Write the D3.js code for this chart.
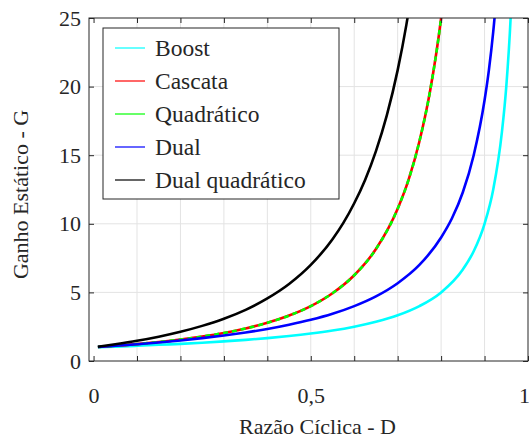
<!DOCTYPE html>
<html>
<head>
<meta charset="utf-8">
<script src="https://cdn.jsdelivr.net/npm/d3@7"></script>
<style>
  body { margin: 0; background: #fff; }
  svg text { font-family: "Liberation Serif", Tinos, "Times New Roman", "Nimbus Roman", "DejaVu Serif", serif; fill: #262626; }
  .grid line { stroke: #e3e3e3; stroke-width: 1; }
  .frame { fill: none; stroke: #262626; stroke-width: 1; }
</style>
</head>
<body>
<svg width="529" height="441"></svg>
<script>
// values (D vs G)
const dBoost = [0.01, 0.05, 0.1, 0.15, 0.2, 0.25, 0.3, 0.35, 0.4, 0.45, 0.5, 0.55, 0.6, 0.65, 0.7, 0.75, 0.8, 0.85, 0.875, 0.9, 0.92, 0.94, 0.95, 0.96, 0.97];
const gBoost = [1.01, 1.05, 1.11, 1.18, 1.25, 1.33, 1.43, 1.54, 1.67, 1.82, 2.0, 2.22, 2.5, 2.86, 3.33, 4.0, 5.0, 6.67, 8.0, 10.0, 12.5, 16.7, 20.0, 25.0, 33.3];

const dCascata = [0.01, 0.05, 0.1, 0.15, 0.2, 0.25, 0.3, 0.35, 0.4, 0.45, 0.5, 0.55, 0.6, 0.65, 0.7, 0.725, 0.75, 0.775, 0.8, 0.82];
const gCascata = [1.02, 1.11, 1.23, 1.38, 1.56, 1.78, 2.04, 2.37, 2.78, 3.31, 4.0, 4.94, 6.25, 8.16, 11.1, 13.2, 16.0, 19.75, 25.0, 30.9];

const dQuad = [0.01, 0.05, 0.1, 0.15, 0.2, 0.25, 0.3, 0.35, 0.4, 0.45, 0.5, 0.55, 0.6, 0.65, 0.7, 0.725, 0.75, 0.775, 0.8, 0.82];
const gQuad = [1.02, 1.11, 1.23, 1.38, 1.56, 1.78, 2.04, 2.37, 2.78, 3.31, 4.0, 4.94, 6.25, 8.16, 11.1, 13.2, 16.0, 19.75, 25.0, 30.9];

const dDual = [0.01, 0.05, 0.1, 0.15, 0.2, 0.25, 0.3, 0.35, 0.4, 0.45, 0.5, 0.55, 0.6, 0.65, 0.7, 0.75, 0.8, 0.825, 0.85, 0.875, 0.9, 0.91, 0.92, 0.93];
const gDual = [1.02, 1.11, 1.22, 1.35, 1.5, 1.67, 1.86, 2.08, 2.33, 2.64, 3.0, 3.44, 4.0, 4.71, 5.67, 7.0, 9.0, 10.4, 12.3, 15.0, 19.0, 21.2, 24.0, 27.6];

const dDualQuad = [0.01, 0.05, 0.1, 0.15, 0.2, 0.25, 0.3, 0.35, 0.4, 0.45, 0.5, 0.55, 0.575, 0.6, 0.625, 0.65, 0.675, 0.7, 0.72, 0.74];
const gDualQuad = [1.04, 1.22, 1.47, 1.77, 2.13, 2.56, 3.08, 3.73, 4.56, 5.61, 7.0, 8.88, 10.07, 11.5, 13.2, 15.3, 17.9, 21.2, 24.5, 28.6];

const seriesNames = ["Boost", "Cascata", "Quadrático", "Dual", "Dual quadrático"];
const seriesColors = ["#00ffff", "#ff0000", "#00ff00", "#0000ff", "#000000"];

const xTickValues = [0, 0.1, 0.2, 0.3, 0.4, 0.5, 0.6, 0.7, 0.8, 0.9, 1];
const xTickLabels = ["0", "", "", "", "", "0,5", "", "", "", "", "1"];
const yTickValues = [0, 5, 10, 15, 20, 25];

const series = [
    { name: seriesNames[0], color: seriesColors[0], pts: dBoost.map((d, i) => ({ x: d, y: gBoost[i] })) },
    { name: seriesNames[1], color: seriesColors[1], pts: dCascata.map((d, i) => ({ x: d, y: gCascata[i] })) },
    { name: seriesNames[2], color: seriesColors[2], pts: dQuad.map((d, i) => ({ x: d, y: gQuad[i] })), dash: "5,4" },
    { name: seriesNames[3], color: seriesColors[3], pts: dDual.map((d, i) => ({ x: d, y: gDual[i] })) },
    { name: seriesNames[4], color: seriesColors[4], pts: dDualQuad.map((d, i) => ({ x: d, y: gDualQuad[i] })) }
];

const plotL = 89, plotR = 528, plotT = 18, plotB = 361;
const axisFont = 22, legendFont = 23.5;

const xScale = d3.scaleLinear().domain([-0.0105, 1]).range([plotL, plotR]);
const yScale = d3.scaleLinear().domain([0, 25]).range([plotB, plotT]);

const svg = d3.select("svg");

svg.append("clipPath").attr("id", "plotclip")
    .append("rect")
    .attr("x", plotL).attr("y", plotT)
    .attr("width", plotR - plotL).attr("height", plotB - plotT);

// grid
const grid = svg.append("g").attr("class", "grid");
grid.selectAll(".gx")
    .data(xTickValues.filter((d) => d > 0 && d < 1))
    .enter().append("line")
    .attr("x1", (d) => xScale(d)).attr("x2", (d) => xScale(d))
    .attr("y1", plotT).attr("y2", plotB);
grid.selectAll(".gy")
    .data(yTickValues.filter((d) => d > 0 && d < 25))
    .enter().append("line")
    .attr("x1", plotL).attr("x2", plotR)
    .attr("y1", (d) => yScale(d)).attr("y2", (d) => yScale(d));

// curves
const lineFunction = d3.line()
    .x((d) => xScale(d.x))
    .y((d) => yScale(d.y))
    .curve(d3.curveMonotoneX);

svg.append("g").attr("clip-path", "url(#plotclip)")
    .selectAll(".curve")
    .data(series)
    .enter().append("path")
    .attr("class", "curve")
    .attr("d", (d) => lineFunction(d.pts))
    .attr("fill", "none")
    .attr("stroke", (d) => d.color)
    .attr("stroke-width", 2.6)
    .attr("stroke-dasharray", (d) => d.dash || null);

// frame and ticks
svg.append("rect").attr("class", "frame")
    .attr("x", plotL).attr("y", plotT)
    .attr("width", plotR - plotL).attr("height", plotB - plotT);

const tickLen = 5;
const xAxisB = d3.axisBottom(xScale).tickValues(xTickValues).tickSize(-tickLen).tickFormat((d, i) => xTickLabels[i]).tickPadding(26);
const xAxisT = d3.axisTop(xScale).tickValues(xTickValues).tickSize(-tickLen).tickFormat("");
const yAxisL = d3.axisLeft(yScale).tickValues(yTickValues).tickSize(-tickLen).tickPadding(8);
const yAxisR = d3.axisRight(yScale).tickValues(yTickValues).tickSize(-tickLen).tickFormat("");

[
    [xAxisB, `translate(0,${plotB})`],
    [xAxisT, `translate(0,${plotT})`],
    [yAxisL, `translate(${plotL},0)`],
    [yAxisR, `translate(${plotR},0)`]
].forEach(([ax, tr]) => {
    const g = svg.append("g").attr("transform", tr).call(ax);
    g.select(".domain").remove();
    g.attr("font-family", null);
    g.selectAll("line").attr("stroke", "#262626");
    g.selectAll("text").attr("font-size", axisFont).attr("fill", "#262626");
});

// keep the last x label inside the window
svg.selectAll("text").filter(function () { return this.textContent === "1"; }).attr("dx", -4);

// axis titles
svg.append("text")
    .attr("x", (plotL + plotR) / 2 + 9).attr("y", 434)
    .attr("text-anchor", "middle").attr("font-size", axisFont)
    .text("Razão Cíclica - D");
svg.append("text")
    .attr("transform", `translate(28,${(plotT + plotB) / 2 + 5}) rotate(-90)`)
    .attr("text-anchor", "middle").attr("font-size", axisFont)
    .text("Ganho Estático - G");

// legend
const lg = svg.append("g").attr("transform", "translate(103,28)");
lg.append("rect")
    .attr("width", 236).attr("height", 171)
    .attr("fill", "#fff").attr("stroke", "#262626").attr("stroke-width", 1);
const rows = lg.selectAll(".row").data(series).enter().append("g")
    .attr("transform", (d, i) => `translate(0,${20 + i * 33})`);
rows.append("line")
    .attr("x1", 12).attr("x2", 42)
    .attr("stroke", (d) => d.color).attr("stroke-width", 1.2);
rows.append("text")
    .attr("x", 52).attr("dy", "0.34em")
    .attr("font-size", legendFont)
    .text((d) => d.name);
</script>
</body>
</html>
